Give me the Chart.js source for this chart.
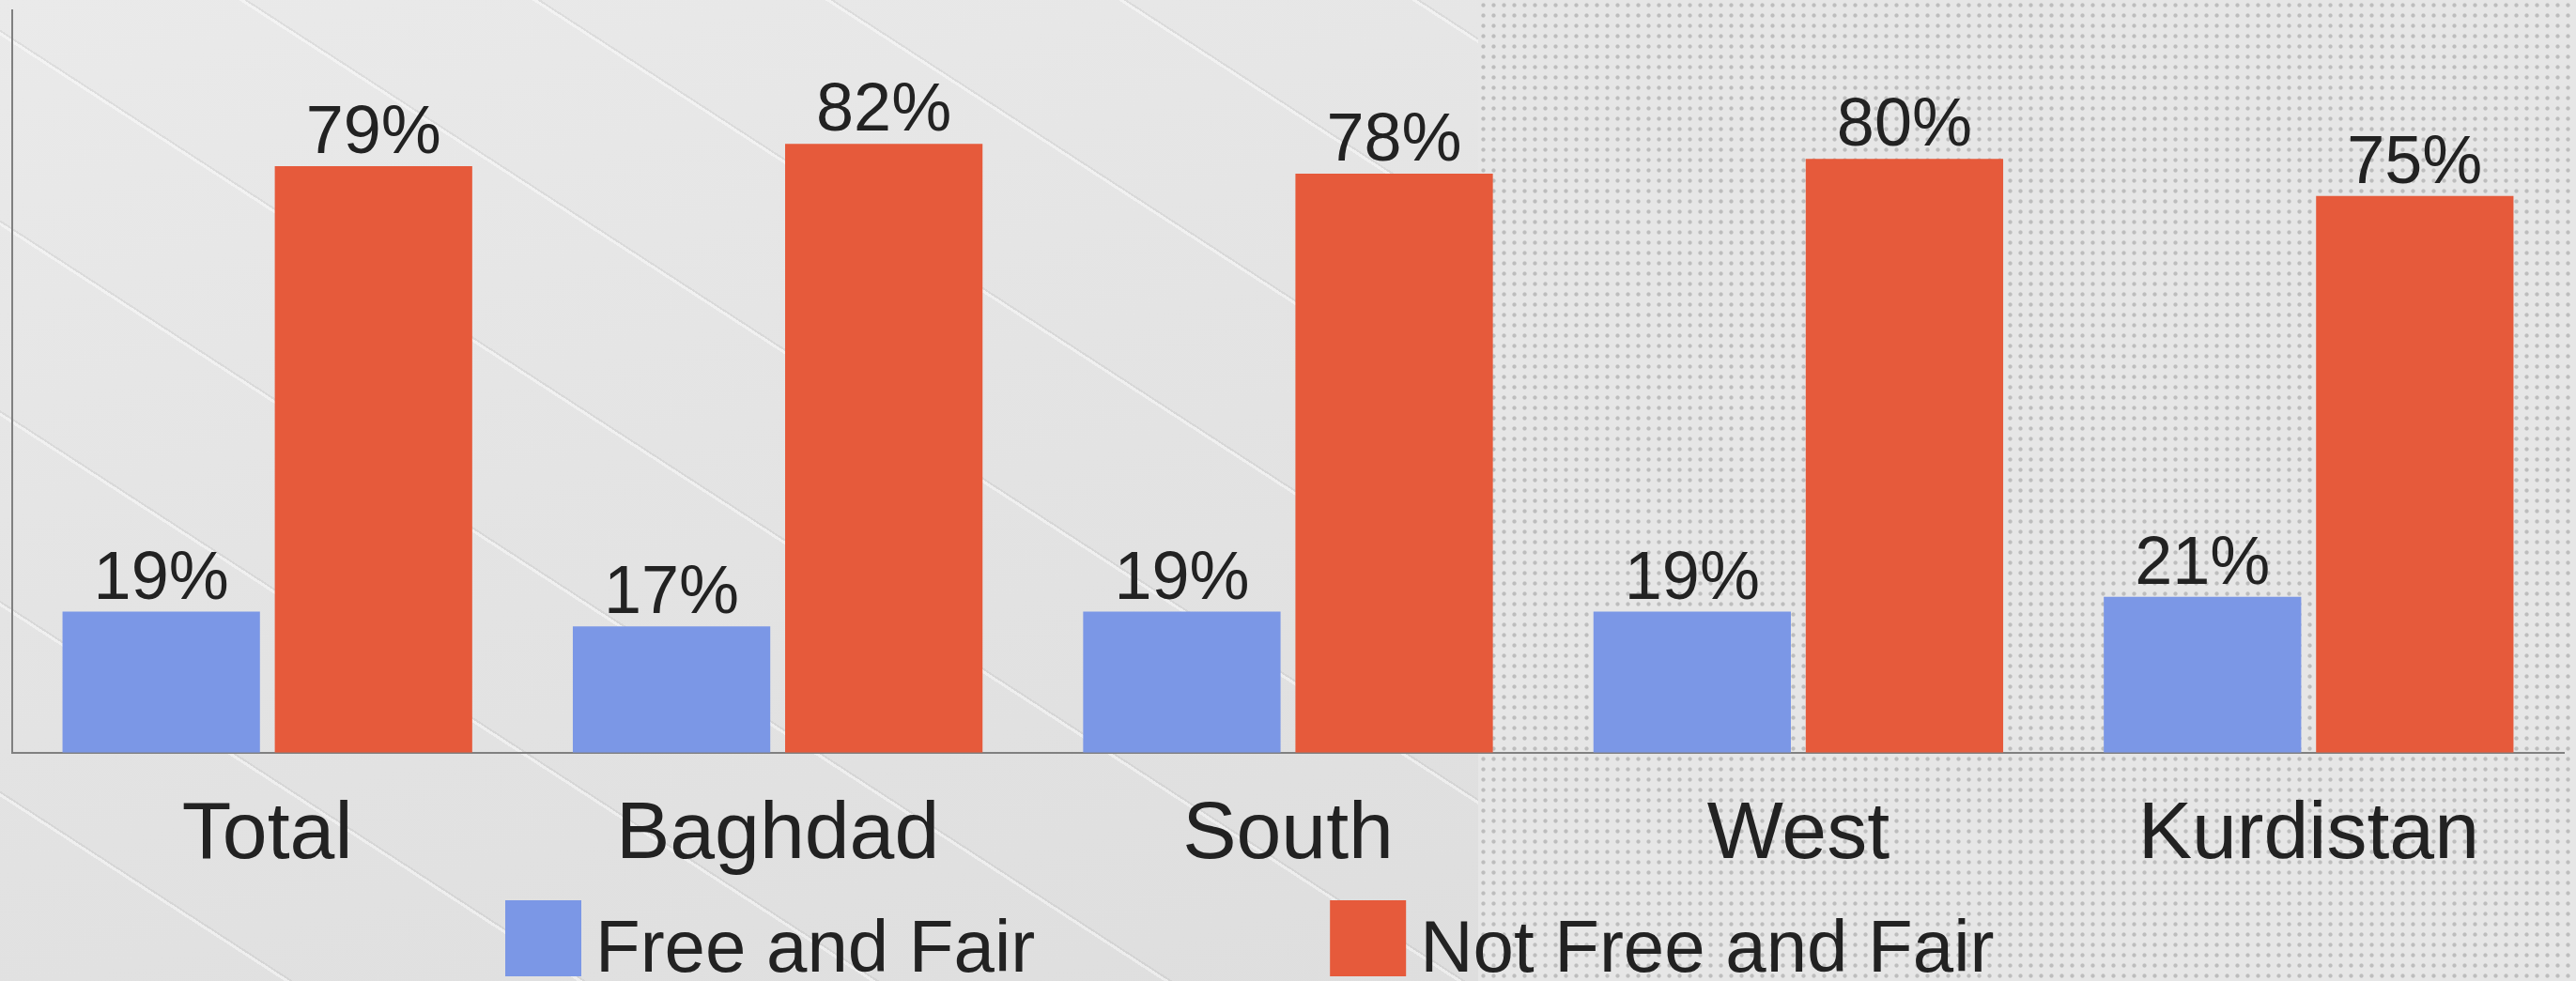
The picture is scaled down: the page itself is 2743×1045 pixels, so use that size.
<!DOCTYPE html>
<html>
<head>
<meta charset="utf-8">
<script src="https://cdn.jsdelivr.net/npm/chart.js@4/dist/chart.umd.min.js"></script>
<style>
	body { margin: 0; overflow: hidden; }
	#wrap { position: relative; width: 2743px; height: 1045px; background: #e3e3e3; }
	#bgLeft {
		position: absolute; left: 0; top: 0; width: 1574px; height: 1045px;
		background:
			repeating-linear-gradient(33deg, rgba(0,0,0,0) 0 165px, rgba(255,255,255,0.45) 165px 168px, rgba(0,0,0,0.05) 168px 170px),
			linear-gradient(165deg, #eaeaea 0%, #e4e4e4 45%, #dedede 100%);
	}
	#bgRight {
		position: absolute; left: 1574px; top: 0; width: 1169px; height: 1045px;
		background-color: #e6e6e6;
		background-image: radial-gradient(circle, #bdbdbd 1.6px, rgba(0,0,0,0) 2.6px);
		background-size: 11px 11px;
	}
	#barChart { position: absolute; left: 0; top: 0; }
</style>
</head>
<body>
<div id="wrap">
	<div id="bgLeft"></div>
	<div id="bgRight"></div>
	<canvas id="barChart" width="2743" height="1045"></canvas>
</div>
<script>
// chart data
const regions = ['Total', 'Baghdad', 'South', 'West', 'Kurdistan'];
const freeFair = [19, 17, 19, 19, 21];
const notFreeFair = [79, 82, 78, 80, 75];
const seriesNames = ['Free and Fair', 'Not Free and Fair'];
const seriesColors = ['#7b97e6', '#e65a3b'];

const fontFamily = '"Liberation Sans", Arial, Helvetica, sans-serif';
const textColor = '#222222';
const axisColor = '#808080';

// percent labels above each bar
const valueLabels = {
	id: 'valueLabels',
	afterDatasetsDraw(chart) {
		const ctx = chart.ctx;
		ctx.save();
		ctx.font = '72px ' + fontFamily;
		ctx.fillStyle = textColor;
		ctx.textAlign = 'center';
		ctx.textBaseline = 'alphabetic';
		chart.data.datasets.forEach((ds, i) => {
			chart.getDatasetMeta(i).data.forEach((bar, j) => {
				ctx.fillText(ds.data[j] + '%', bar.x, bar.y - 14);
			});
		});
		ctx.restore();
	}
};

// legend row at the bottom, spaced like the original
const bottomLegend = {
	id: 'bottomLegend',
	afterDraw(chart) {
		const ctx = chart.ctx;
		ctx.save();
		ctx.font = '78px ' + fontFamily;
		ctx.textBaseline = 'alphabetic';
		ctx.textAlign = 'left';
		let x = 538;
		chart.data.datasets.forEach(ds => {
			ctx.fillStyle = ds.backgroundColor;
			ctx.fillRect(x, 959, 81, 81);
			ctx.fillStyle = textColor;
			ctx.fillText(ds.label, x + 96, 1035);
			x += 96 + ctx.measureText(ds.label).width + 314;
		});
		ctx.restore();
	}
};

const ctx = document.getElementById('barChart');
const theChart = new Chart(ctx, {
	type: 'bar',
	data: {
		labels: regions,
		datasets: [
			{ label: seriesNames[0], data: freeFair, backgroundColor: seriesColors[0] },
			{ label: seriesNames[1], data: notFreeFair, backgroundColor: seriesColors[1] }
		]
	},
	options: {
		responsive: false,
		animation: false,
		categoryPercentage: 0.832,
		barPercentage: 0.93,
		layout: { padding: { left: 13, right: 13, top: 11, bottom: 66 } },
		plugins: {
			legend: { display: false },
			tooltip: { enabled: false }
		},
		scales: {
			x: {
				grid: { display: false, drawTicks: false },
				border: { color: axisColor, width: 2 },
				ticks: { color: textColor, padding: 37, font: { family: fontFamily, size: 86 } }
			},
			y: {
				min: 0,
				max: 100,
				grid: { display: false, drawTicks: false },
				border: { color: axisColor, width: 2 },
				ticks: { display: false }
			}
		}
	},
	plugins: [valueLabels, bottomLegend]
});
</script>
</body>
</html>
